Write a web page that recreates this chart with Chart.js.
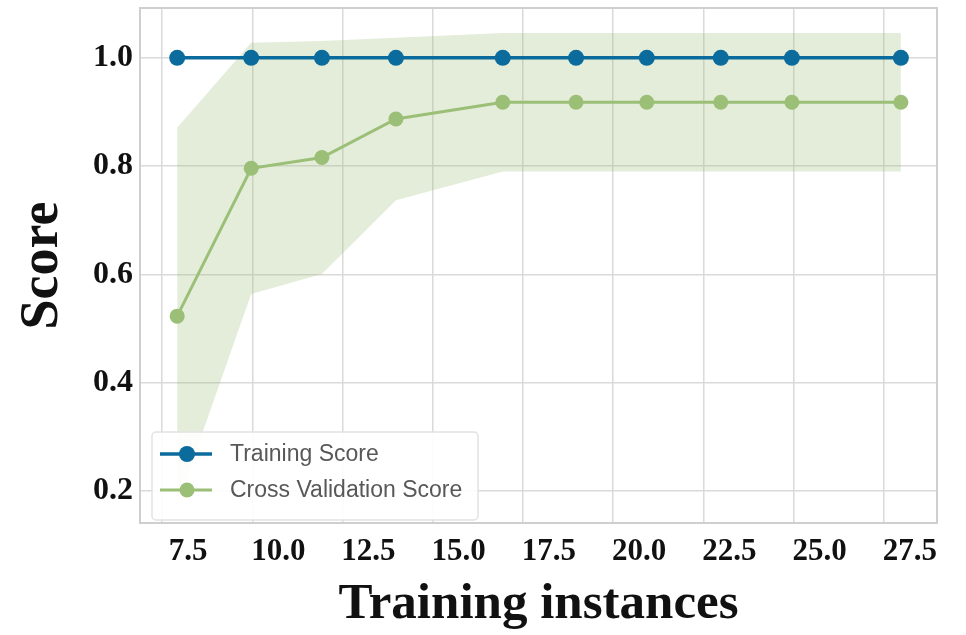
<!DOCTYPE html>
<html>
<head>
<meta charset="utf-8">
<title>Learning curve</title>
<script src="https://cdn.jsdelivr.net/npm/chart.js@4/dist/chart.umd.min.js"></script>
<style>
  html, body { margin: 0; padding: 0; background: #fff; }
  #wrap { width: 966px; height: 635px; position: relative; }
</style>
</head>
<body>
<div id="wrap"><canvas id="curve" width="966" height="635"></canvas></div>
<script>
"use strict"

// Данные кривой обучения
const trainSizes = [7.92, 9.97, 11.93, 13.98, 16.94, 18.97, 20.93, 22.98, 24.95, 27.97]
const trainScore = [1.0, 1.0, 1.0, 1.0, 1.0, 1.0, 1.0, 1.0, 1.0, 1.0]
const cvScore = [0.523, 0.796, 0.816, 0.887, 0.918, 0.918, 0.918, 0.918, 0.918, 0.918]
const cvUpper = [0.871, 1.028, 1.031, 1.037, 1.046, 1.046, 1.046, 1.046, 1.046, 1.046]
const cvLower = [0.175, 0.564, 0.601, 0.737, 0.790, 0.790, 0.790, 0.790, 0.790, 0.790]
const xTicks = [7.5, 10.0, 12.5, 15.0, 17.5, 20.0, 22.5, 25.0, 27.5]
const yTicks = [0.2, 0.4, 0.6, 0.8, 1.0]
const seriesLabels = ["Training Score", "Cross Validation Score"]

window.addEventListener("DOMContentLoaded", () => {

  const blue = "#0b6b9c",
        green = "#9cbf78",
        band = "rgba(156, 191, 120, 0.28)",
        gridColor = "#dadada",
        serif = "'Liberation Serif', 'Times New Roman', serif"

  const points = values => values.map((v, i) => ({x: trainSizes[i], y: v}))

  // Рамка вокруг области графика
  const framePlugin = {
    id: "frame",
    beforeDatasetsDraw(chart) {
      const {ctx, chartArea: a} = chart
      ctx.save()
      ctx.strokeStyle = "#cfcfcf"
      ctx.lineWidth = 2
      ctx.strokeRect(a.left, a.top, a.right - a.left, a.bottom - a.top)
      ctx.restore()
    }
  }

  // Легенда в стиле matplotlib (линия + маркер)
  const legendPlugin = {
    id: "mplLegend",
    afterDraw(chart) {
      const {ctx} = chart
      const rows = [chart.data.datasets[0], chart.data.datasets[1]]
      ctx.save()
      ctx.fillStyle = "rgba(255, 255, 255, 0.92)"
      ctx.strokeStyle = "#e2e2e2"
      ctx.lineWidth = 1.5
      ctx.beginPath()
      ctx.roundRect(152, 432, 326, 88, 4)
      ctx.fill()
      ctx.stroke()
      ctx.font = "23px 'Liberation Sans', Arial, sans-serif"
      ctx.textBaseline = "middle"
      rows.forEach((ds, i) => {
        const y = 454 + i * 36
        ctx.strokeStyle = ds.borderColor
        ctx.lineWidth = ds.borderWidth
        ctx.beginPath()
        ctx.moveTo(160, y)
        ctx.lineTo(212, y)
        ctx.stroke()
        ctx.fillStyle = ds.pointBackgroundColor
        ctx.beginPath()
        ctx.arc(187, y, ds.pointRadius, 0, Math.PI * 2)
        ctx.fill()
        ctx.fillStyle = "#585858"
        ctx.fillText(ds.label, 230, y + 1)
      })
      ctx.restore()
    }
  }

  new Chart(document.querySelector("#curve"), {
    type: "line",
    data: {
      datasets: [{
        label: seriesLabels[0],
        data: points(trainScore),
        borderColor: blue,
        borderWidth: 3.5,
        pointRadius: 8,
        pointBorderWidth: 0,
        pointBackgroundColor: blue,
        fill: false
      }, {
        label: seriesLabels[1],
        data: points(cvScore),
        borderColor: green,
        borderWidth: 3,
        pointRadius: 7.5,
        pointBorderWidth: 0,
        pointBackgroundColor: green,
        fill: false
      }, {
        label: "upper",
        data: points(cvUpper),
        borderWidth: 0,
        pointRadius: 0,
        backgroundColor: band,
        fill: "+1"
      }, {
        label: "lower",
        data: points(cvLower),
        borderWidth: 0,
        pointRadius: 0,
        fill: false
      }]
    },
    options: {
      responsive: false,
      animation: false,
      layout: {
        padding: {top: 7, right: 29, left: 0, bottom: 0}
      },
      scales: {
        x: {
          type: "linear",
          min: 6.89,
          max: 28.97,
          afterFit: scale => {
            scale.height = 112
            scale.paddingLeft = 0
            scale.paddingRight = 0
          },
          afterBuildTicks: scale => { scale.ticks = xTicks.map(v => ({value: v})) },
          grid: {color: gridColor, lineWidth: 1.5, drawTicks: false},
          border: {display: false},
          ticks: {
            padding: 10,
            labelOffset: 26,
            color: "#111",
            font: {family: serif, size: 31, weight: "bold"},
            callback: v => v.toFixed(1)
          },
          title: {
            display: true,
            text: "Training instances",
            color: "#111",
            padding: {top: 0, bottom: 5},
            font: {family: serif, size: 51, weight: "bold", lineHeight: 1}
          }
        },
        y: {
          min: 0.141,
          max: 1.092,
          afterFit: scale => {
            scale.width = 140
            scale.paddingTop = 0
            scale.paddingBottom = 0
          },
          afterBuildTicks: scale => { scale.ticks = yTicks.map(v => ({value: v})) },
          grid: {color: gridColor, lineWidth: 1.5, drawTicks: false},
          border: {display: false},
          ticks: {
            padding: 7,
            color: "#111",
            font: {family: serif, size: 32, weight: "bold"},
            callback: v => v.toFixed(1)
          },
          title: {
            display: true,
            text: "Score",
            color: "#111",
            padding: {top: 16, bottom: 0},
            font: {family: serif, size: 54, weight: "bold", lineHeight: 1}
          }
        }
      },
      plugins: {
        legend: {display: false},
        tooltip: {enabled: false}
      }
    },
    plugins: [framePlugin, legendPlugin]
  })
})
</script>
</body>
</html>
